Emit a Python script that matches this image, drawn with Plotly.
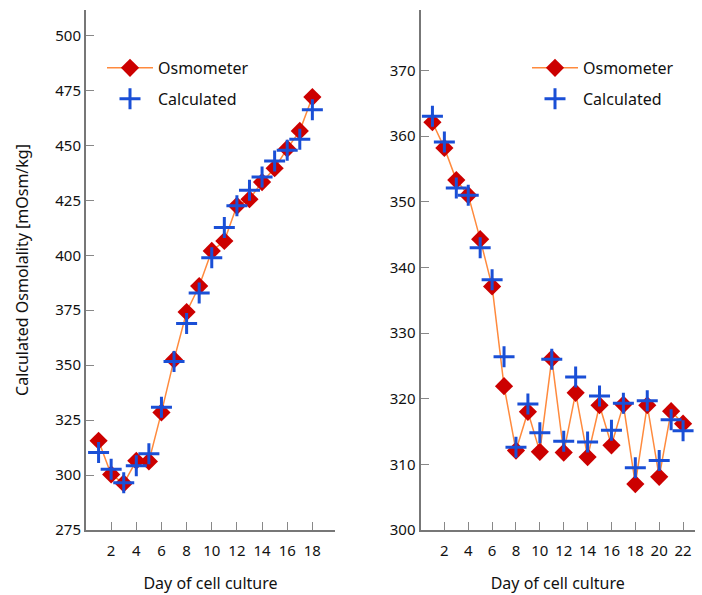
import plotly.graph_objects as go

# Left panel data
days_left = list(range(1, 19))
osm_left = [315.6, 300.3, 296.2, 306.5, 306.2, 328.5, 352.5, 374.2, 386.0, 402.0,
            406.5, 422.5, 425.5, 433.3, 439.6, 448.5, 456.6, 472.0]
calc_left = [310.3, 302.6, 296.5, 304.2, 309.7, 330.8, 351.7, 369.0, 382.8, 398.9,
             412.6, 422.5, 429.6, 435.6, 442.9, 447.8, 452.8, 466.2]

# Right panel data
days_right = list(range(1, 23))
osm_right = [362.1, 358.2, 353.3, 351.0, 344.3, 337.1, 321.9, 312.1, 318.0, 311.9, 326.1,
             311.8, 320.9, 311.1, 319.0, 312.9, 319.1, 307.0, 319.0, 308.1, 318.1, 316.2]
calc_right = [363.0, 359.1, 352.1, 351.0, 343.0, 338.1, 326.4, 312.6, 319.2, 314.8, 326.0,
              313.5, 323.3, 313.4, 320.4, 315.2, 319.3, 309.5, 319.7, 310.6, 316.8, 315.1]

x_ticks_left = [2, 4, 6, 8, 10, 12, 14, 16, 18]
x_ticks_right = [2, 4, 6, 8, 10, 12, 14, 16, 18, 20, 22]
y_ticks_left = [275, 300, 325, 350, 375, 400, 425, 450, 475, 500]
y_ticks_right = [300, 310, 320, 330, 340, 350, 360, 370]

FONT = "Noto Sans"
RED = "#cc0000"
BLUE = "#1a4fd6"
ORANGE = "#ff8a3d"

W, H = 702, 595
ML, MR, MT, MB = 86, 7, 10, 64.5
PW = W - ML - MR
PH = H - MT - MB


def dx(p):
    return (p - ML) / PW


def dy(p):
    return 1 - (p - MT) / PH


fig = go.Figure()

for (days, osm, calc, xa, ya, leg, tag) in [
    (days_left, osm_left, calc_left, "x", "y", "legend", "L"),
    (days_right, osm_right, calc_right, "x2", "y2", "legend2", "R"),
]:
    fig.add_trace(go.Scatter(
        x=days, y=osm, mode="lines+markers", name="Osmometer",
        line=dict(color=ORANGE, width=1.5),
        marker=dict(symbol="diamond", size=14, color=RED, line=dict(width=0)),
        xaxis=xa, yaxis=ya, legend=leg, legendgroup=tag + "osm",
    ))
    fig.add_trace(go.Scatter(
        x=days, y=calc, mode="markers", name="Calculated",
        marker=dict(symbol="cross-thin", size=15, color=BLUE,
                    line=dict(color=BLUE, width=3)),
        xaxis=xa, yaxis=ya, legend=leg, legendgroup=tag + "calc",
    ))

axis_common = dict(
    showgrid=False, zeroline=False, showline=True, linecolor="#777777", linewidth=2,
    ticks="inside", ticklen=8, tickcolor="#888888", tickwidth=1,
    tickfont=dict(family=FONT, size=15, color="#111111"),
    automargin=False,
)

legend_common = dict(
    xanchor="left", yanchor="top",
    font=dict(family=FONT, size=16, color="#111111"),
    bgcolor="rgba(0,0,0,0)", itemwidth=46, tracegroupgap=7, traceorder="grouped",
)

fig.update_layout(
    width=W, height=H,
    margin=dict(l=ML, r=MR, t=MT, b=MB, autoexpand=False),
    plot_bgcolor="white", paper_bgcolor="white",
    font=dict(family=FONT, color="#111111"),
    xaxis=dict(domain=[0, dx(335)], range=[0, 19.8], tickvals=x_ticks_left,
               anchor="y", ticklabelstandoff=6,
               title=dict(text="Day of cell culture", font=dict(size=16), standoff=19),
               **axis_common),
    yaxis=dict(domain=[0, 1], range=[275, 511.6], tickvals=y_ticks_left, anchor="x",
               ticklabelstandoff=0,
               title=dict(text="Calculated Osmolality [mOsm/kg]", font=dict(size=16), standoff=23),
               **axis_common),
    xaxis2=dict(domain=[dx(420.5), 1], range=[0, 23], tickvals=x_ticks_right,
                anchor="y2", ticklabelstandoff=6,
                title=dict(text="Day of cell culture", font=dict(size=16), standoff=19),
                **axis_common),
    yaxis2=dict(domain=[0, 1], range=[300, 379.2], tickvals=y_ticks_right, anchor="x2",
                ticklabelstandoff=0,
                **axis_common),
    legend=dict(x=dx(102), y=dy(51), **legend_common),
    legend2=dict(x=dx(527), y=dy(51), **legend_common),
)

fig.write_html("out.html", config={"displayModeBar": False},
               post_script="document.body.style.margin='0';document.body.style.overflow='hidden';")
